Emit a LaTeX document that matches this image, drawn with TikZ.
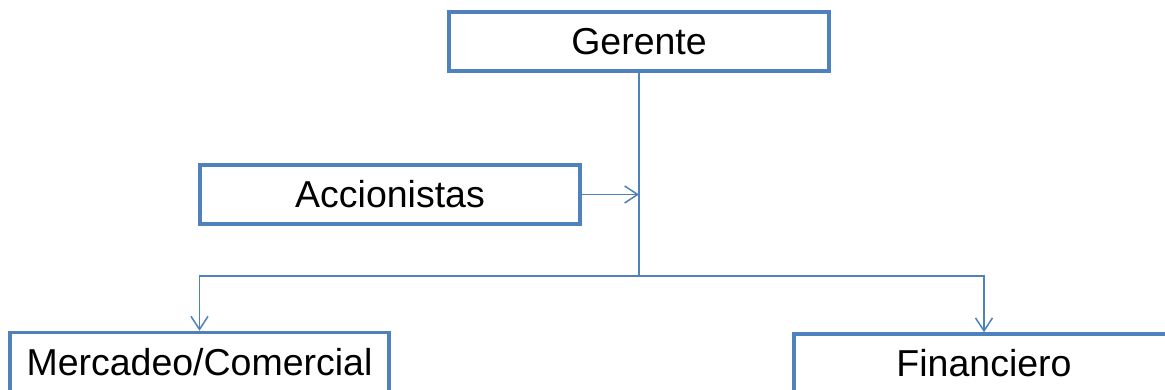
\documentclass[tikz,border=0pt]{standalone}
\usepackage{fontspec}
\setmainfont{Liberation Sans}
\usetikzlibrary{arrows.meta}
\definecolor{boxblue}{HTML}{4F81BD}
\begin{document}
\begin{tikzpicture}[x=1pt,y=-1pt,
  orgbox/.style={draw=boxblue,line width=3.5pt,fill=white,minimum width=380pt,minimum height=59pt,inner sep=0pt,font=\fontsize{37.5}{44}\selectfont,text=black},
  conn/.style={draw=boxblue,line width=1.5pt},
  arr/.style={conn,-{Straight Barb[length=13pt,width=17pt,line width=1.5pt]}}]
\clip (0,0) rectangle (1165,390);
\fill[white] (0,0) rectangle (1165,390);
\node[orgbox] (ger) at (639,41.5) {Gerente};
\node[orgbox] (acc) at (390,194.5) {Accionistas};
\node[orgbox,minimum width=379pt] (mer) at (199.5,362) {Mercadeo/Comercial};
\node[orgbox] (fin) at (984,363.5) {Financiero};
\coordinate (j) at (639,276);
\draw[conn] (ger.south) -- (j);
\draw[arr] (j) -| (mer.north);
\draw[arr] (j) -| (fin.north);
\draw[arr] (acc.east) -- (acc.east -| ger.south);
\end{tikzpicture}
\end{document}
